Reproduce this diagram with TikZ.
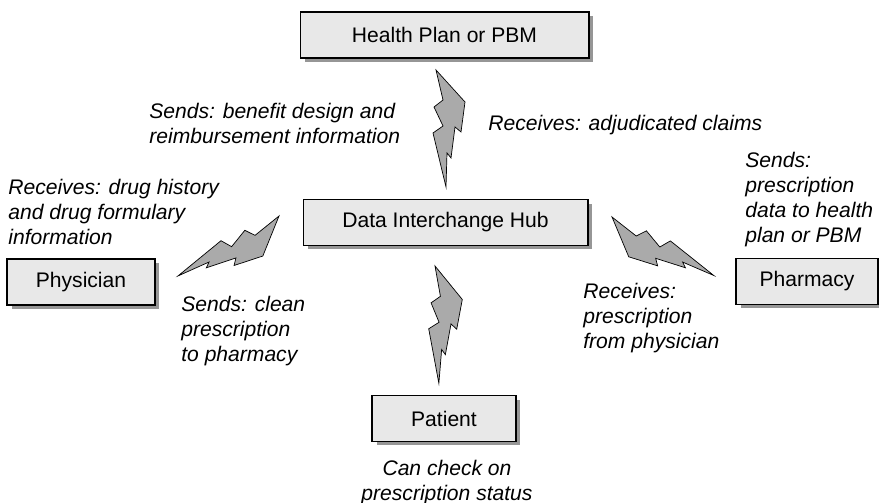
\documentclass[tikz,border=0pt]{standalone}
\usepackage{fontspec}
\setmainfont{Liberation Sans}
\usetikzlibrary{shadows}
\definecolor{boxgray}{RGB}{232,232,232}
\definecolor{shadowgray}{RGB}{150,150,150}
\definecolor{boltgray}{RGB}{170,170,170}
\tikzset{hubbox/.style={draw, line width=0.6pt, fill=boxgray, inner sep=0pt, minimum height=0.92cm, font=\fontsize{12}{14.2}\selectfont, drop shadow={shadow xshift=0.09cm, shadow yshift=-0.08cm, fill=shadowgray, opacity=1}}}
\tikzset{note/.style={inner sep=0pt, align=left, font=\fontsize{12}{14.2}\selectfont\itshape}}
\tikzset{boltshape/.style={draw, line width=0.4pt, fill=boltgray, line join=miter}}
\newcommand{\zigbolt}[3][]{%
  \begin{scope}[shift={(#2)}, rotate=#3, #1]
  \filldraw[boltshape] (0,0) -- (29,32) -- (25,62) -- (19,57) -- (15,88) -- (11,83) -- (10,117) -- (-3,63) -- (7,56) -- (-2,37) -- (7,30) -- cycle;
  \end{scope}}

\begin{document}
\begin{tikzpicture}[x=0.02cm, y=-0.02cm]
\useasboundingbox (0,0) rectangle (879,503);
\node[hubbox, minimum width=5.78cm] (plan) at (444.5,35) {Health Plan or PBM};
\node[hubbox, minimum width=5.7cm] (hub) at (445.5,222.5) {Data Interchange Hub};
\node[hubbox, minimum width=2.96cm] (physician) at (81,282) {Physician};
\node[hubbox, minimum width=2.84cm] (pharmacy) at (807,281.5) {Pharmacy};
\node[hubbox, minimum width=2.88cm] (patient) at (444,418.5) {Patient};

\node[note, anchor=north west] (plansends) at (149,103) {Sends: benefit design and\\reimbursement information};
\node[note, anchor=north west] (planreceives) at (488,115) {Receives: adjudicated claims};
\node[note, anchor=north west] (physreceives) at (8,179) {Receives: drug history\\and drug formulary\\information};
\node[note, anchor=north west] (pharmsends) at (745,152) {Sends:\\prescription\\data to health\\plan or PBM};
\node[note, anchor=north west] (physsends) at (181,296) {Sends: clean\\prescription\\to pharmacy};
\node[note, anchor=north west] (pharmreceives) at (583,283) {Receives:\\prescription\\from physician};
\node[note, align=center, anchor=north] (patientnote) at (447,460) {Can check on\\prescription status};

\coordinate (plantail) at (436,70);
\coordinate (patienttail) at (435,266);
\coordinate (phystail) at (279,216);
\coordinate (pharmtail) at (612,217);
\zigbolt{plantail}{0}
\zigbolt{patienttail}{-3}
\zigbolt{phystail}{-64.2}
\zigbolt[xscale=-1]{pharmtail}{65}
\end{tikzpicture}
\end{document}
